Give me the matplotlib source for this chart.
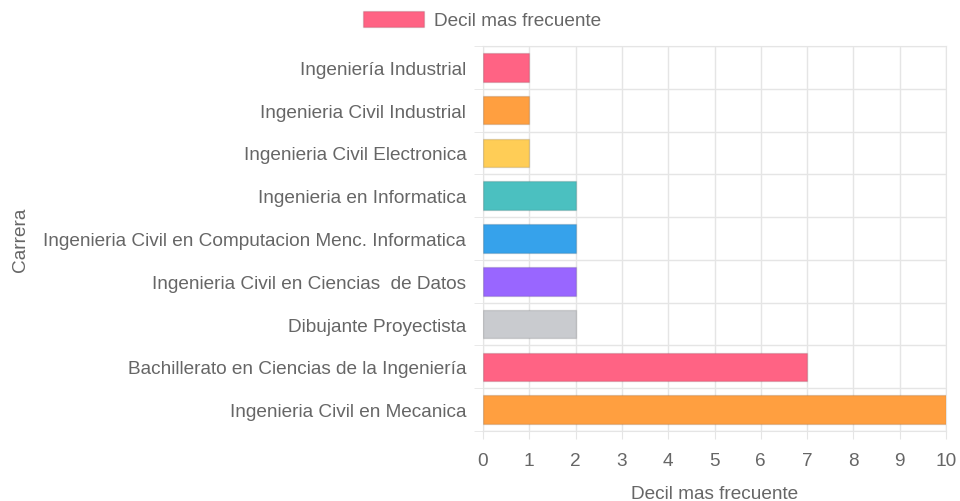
import matplotlib.pyplot as plt
from matplotlib.patches import Patch

# Data
carreras = ['Ingeniería Industrial', 'Ingenieria Civil Industrial', 'Ingenieria Civil Electronica',
            'Ingenieria en Informatica', 'Ingenieria Civil en Computacion Menc. Informatica',
            'Ingenieria Civil en Ciencias  de Datos', 'Dibujante Proyectista',
            'Bachillerato en Ciencias de la Ingeniería', 'Ingenieria Civil en Mecanica']
decil = [1, 1, 1, 2, 2, 2, 2, 7, 10]
colores = ['#ff6384', '#ff9f40', '#ffcd56', '#4bc0c0', '#36a2eb', '#9966ff', '#c9cbcf',
           '#ff6384', '#ff9f40']

plt.rcParams['font.family'] = ['Liberation Sans', 'DejaVu Sans']
txt = '#666666'
grid = '#e5e5e5'
fs = 13.7

fig = plt.figure(figsize=(9.6, 5.02), dpi=100)
ax = fig.add_axes([483 / 960, 1 - 432 / 502, 463 / 960, 385 / 502])

pos = list(range(len(carreras)))
ax.barh(pos, decil, height=0.67, color=colores, edgecolor=(0, 0, 0, 0.12), linewidth=1, zorder=3)

ax.set_xlim(0, 10)
ax.set_ylim(len(carreras) - 0.5, -0.5)
ax.set_xticks(range(0, 11))
ax.set_yticks(pos)
ax.set_yticklabels(carreras)
ax.set_yticks([p - 0.5 for p in pos] + [len(carreras) - 0.5], minor=True)

ax.tick_params(axis='x', length=6, color=grid, labelcolor=txt, labelsize=fs, pad=9)
ax.tick_params(axis='y', which='major', length=0, labelcolor=txt, labelsize=fs, pad=12)
ax.tick_params(axis='y', which='minor', length=6.5, color=grid)
ax.grid(axis='x', color=grid, linewidth=1, zorder=0)
ax.grid(axis='y', which='minor', color=grid, linewidth=1, zorder=0)
for s in ax.spines.values():
    s.set_color(grid)

ax.set_xlabel('Decil mas frecuente', color=txt, fontsize=fs, labelpad=12)
fig.text(20 / 960, 1 - 240 / 502, 'Carrera', color=txt, fontsize=fs, rotation=90,
         ha='center', va='center')

fig.legend(handles=[Patch(facecolor='#ff6384', edgecolor=(0, 0, 0, 0.12))],
           labels=['Decil mas frecuente'], loc='center', bbox_to_anchor=(482 / 960, 1 - 21 / 502),
           frameon=False, fontsize=fs, labelcolor=txt, handlelength=3.2, handleheight=0.95,
           handletextpad=0.55)

fig.savefig('out.png', dpi=100)
